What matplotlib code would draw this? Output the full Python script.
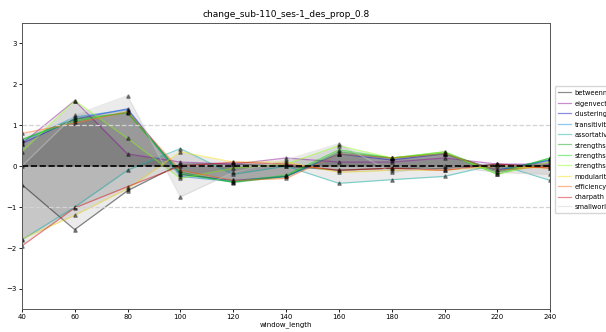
import numpy as np
import matplotlib
matplotlib.use("Agg")
import matplotlib.pyplot as plt

# window lengths on x axis
window_length = [40, 60, 80, 100, 120, 140, 160, 180, 200, 220, 240]

names = ["betweenness_centrality", "eigenvector_centrality", "clustering_coef_wu",
         "transitivity_wu", "assortativity_wei", "strengths_und",
         "strengths_und_pos", "strengths_und_neg", "modularity_und",
         "efficiency_wei", "charpath", "smallworldness"]

# values
betweenness = [-0.45, -1.55, -0.60, 0.05, 0.05, 0.00, -0.10, -0.05, -0.05, 0.05, 0.00]
eigenvector = [0.55, 1.60, 0.30, 0.10, 0.05, 0.20, 0.10, 0.10, 0.20, 0.05, 0.05]
clustering = [0.55, 1.15, 1.40, -0.20, -0.35, -0.25, 0.30, 0.15, 0.30, -0.10, 0.15]
transitivity = [0.60, 1.20, 1.38, -0.25, -0.38, -0.25, 0.30, 0.20, 0.30, -0.10, 0.15]
assortativity = [-1.80, -1.00, -0.10, 0.43, -0.20, 0.00, -0.42, -0.33, -0.25, 0.05, -0.35]
strengths_a = [0.65, 1.15, 1.30, -0.15, -0.40, -0.25, 0.35, 0.20, 0.35, -0.15, 0.20]
strengths_b = [0.65, 1.10, 1.32, -0.20, -0.38, -0.22, 0.40, 0.20, 0.32, -0.20, 0.20]
strengths_c = [0.35, 1.60, 0.68, -0.30, -0.05, 0.05, 0.50, 0.20, 0.35, -0.20, 0.10]
modularity = [-1.78, -1.20, -0.55, 0.35, 0.10, 0.10, -0.15, -0.10, -0.10, 0.00, -0.05]
efficiency = [0.80, 1.05, 1.33, -0.10, -0.35, -0.30, 0.30, 0.20, 0.30, -0.10, 0.00]
charpath = [-1.95, -1.02, -0.50, 0.00, 0.10, 0.05, -0.10, -0.05, -0.10, 0.05, -0.05]
smallworld = [0.00, 1.25, 1.72, -0.75, -0.15, 0.15, 0.55, -0.15, 0.00, -0.15, -0.20]

series = [betweenness, eigenvector, clustering, transitivity, assortativity,
          strengths_a, strengths_b, strengths_c, modularity, efficiency,
          charpath, smallworld]

colors = plt.cm.nipy_spectral(np.linspace(0, 1, len(series)))

fig = plt.figure(figsize=(6.06, 3.32), dpi=100)
ax = fig.add_axes([0.036, 0.068, 0.872, 0.863])

for name, vals, c in zip(names, series, colors):
    ax.fill_between(window_length, 0, vals, color="k", alpha=0.08, linewidth=0)
    ax.plot(window_length, vals, color=c, alpha=0.45, linewidth=0.9, label=name)
    ax.plot(window_length, vals, linestyle="none", marker="^", markersize=2.5,
            color="k", alpha=0.4)

ax.axhline(0, color="k", linestyle="--", linewidth=1.2)
ax.axhline(1, color="lightgray", linestyle="--", linewidth=0.9)
ax.axhline(-1, color="lightgray", linestyle="--", linewidth=0.9)

ax.set_xlim(40, 240)
ax.set_ylim(-3.5, 3.5)
ax.set_xticks(range(40, 241, 20))
ax.set_yticks(range(-3, 4))
ax.tick_params(labelsize=5, length=2, width=0.6, pad=1.5)
for s in ax.spines.values():
    s.set_linewidth(0.7)
    s.set_color("#555555")

ax.set_title("change_sub-110_ses-1_des_prop_0.8", fontsize=6.5, pad=4)
ax.set_xlabel("window_length", fontsize=5, labelpad=1)

ax.legend(loc="upper left", bbox_to_anchor=(1.003, 0.79), fontsize=4.8,
          handlelength=1.9, handletextpad=0.5, labelspacing=0.55,
          borderpad=0.5, frameon=True)

fig.savefig("out.png", dpi=100)
